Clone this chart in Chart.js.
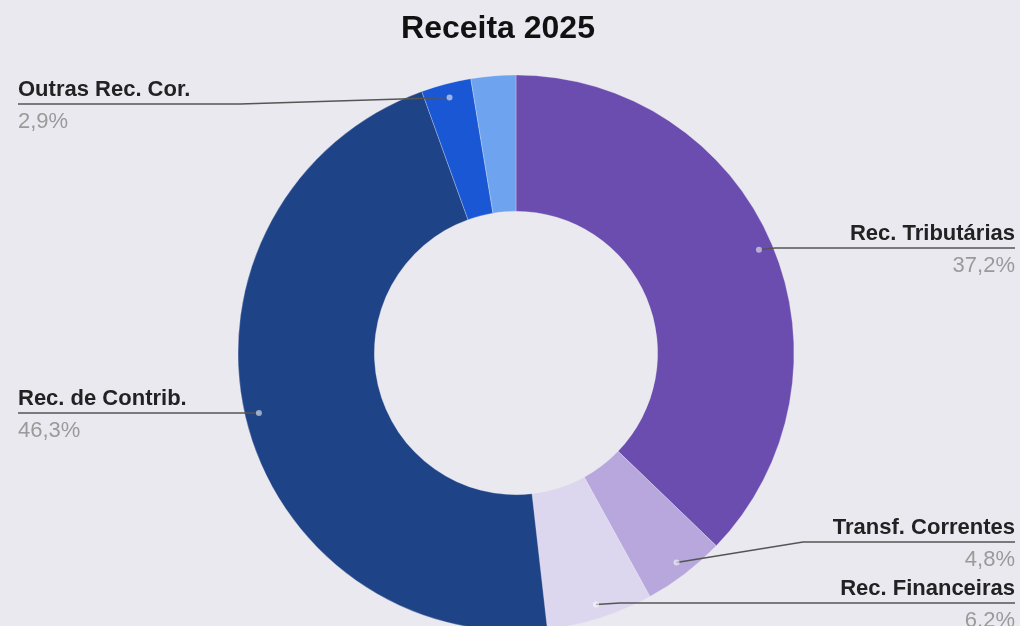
<!DOCTYPE html>
<html>
<head>
<meta charset="utf-8">
<script src="https://cdn.jsdelivr.net/npm/chart.js@4"></script>
<style>
  html, body { margin: 0; padding: 0; background: #ebe9f0; overflow: hidden; }
  #wrap { width: 1020px; height: 626px; position: relative; }
</style>
</head>
<body>
<div id="wrap"><canvas id="chart"></canvas></div>
<script>
var titleText = 'Receita 2025';
var categories = ['Rec. Tributárias', 'Transf. Correntes', 'Rec. Financeiras', 'Rec. de Contrib.', 'Outras Rec. Cor.', 'Outras'];
var values = [37.2, 4.8, 6.2, 46.3, 2.9, 2.6];
var pctLabels = ['37,2%', '4,8%', '6,2%', '46,3%', '2,9%', ''];
var colors = ['#6a4dae', '#b7a7dd', '#ddd6ef', '#1e4387', '#1957d5', '#6ea4ef'];

// where each callout sits (null = no callout)
var callouts = [
    {side: 'right', lineY: 248, elbowX: 775},
    {side: 'right', lineY: 542, elbowX: 803},
    {side: 'right', lineY: 603, elbowX: 620},
    {side: 'left', lineY: 413, elbowX: 240},
    {side: 'left', lineY: 104, elbowX: 240},
    null
];

var FONT = '"Liberation Sans", Arial, sans-serif';

var calloutPlugin = {
    id: 'callouts',
    afterDatasetsDraw: function(chart) {
        var ctx = chart.ctx;
        var meta = chart.getDatasetMeta(0);
        ctx.save();
        // title
        ctx.fillStyle = '#111';
        ctx.font = 'bold 32px ' + FONT;
        ctx.textAlign = 'center';
        ctx.textBaseline = 'alphabetic';
        ctx.fillText(titleText, 498, 38);

        meta.data.forEach(function(arc, i) {
            var c = callouts[i];
            if (!c) return;
            var p = arc.getProps(['x', 'y', 'startAngle', 'endAngle', 'outerRadius'], true);
            var mid = (p.startAngle + p.endAngle) / 2;
            var r = p.outerRadius - 14;
            var dx = p.x + Math.cos(mid) * r;
            var dy = p.y + Math.sin(mid) * r;
            var endX = c.side === 'right' ? 1015 : 18;

            ctx.strokeStyle = '#555';
            ctx.lineWidth = 1.5;
            ctx.beginPath();
            ctx.moveTo(dx, dy);
            ctx.lineTo(c.elbowX, c.lineY);
            ctx.lineTo(endX, c.lineY);
            ctx.stroke();

            ctx.fillStyle = 'rgba(255,255,255,0.55)';
            ctx.beginPath();
            ctx.arc(dx, dy, 3, 0, Math.PI * 2);
            ctx.fill();

            ctx.textAlign = c.side === 'right' ? 'right' : 'left';
            ctx.fillStyle = '#222';
            ctx.font = 'bold 22px ' + FONT;
            ctx.fillText(categories[i], endX, c.lineY - 8);
            ctx.fillStyle = '#9a9a9a';
            ctx.font = '22px ' + FONT;
            ctx.fillText(pctLabels[i], endX, c.lineY + 24);
        });
        ctx.restore();
    }
};

new Chart(document.getElementById('chart'), {
    type: 'doughnut',
    data: {
        labels: categories,
        datasets: [{
            data: values,
            backgroundColor: colors,
            borderWidth: 0.5,
            borderColor: 'rgba(235,233,240,0.6)',
            hoverOffset: 0,
            clip: false
        }]
    },
    options: {
        responsive: true,
        maintainAspectRatio: false,
        animation: false,
        radius: 278,
        cutout: 139,
        layout: { padding: { left: 238, right: 226, top: 80, bottom: 0 } },
        plugins: {
            legend: { display: false },
            title: { display: false },
            tooltip: { enabled: false }
        },
        events: []
    },
    plugins: [calloutPlugin]
});
</script>
</body>
</html>
